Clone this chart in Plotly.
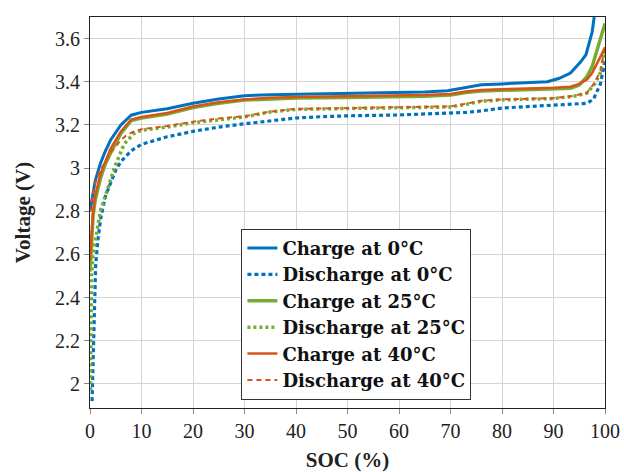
import plotly.graph_objects as go

# ---- data (SOC in %, voltage in V) ----
soc_charge_0 = [0, 0.5, 1, 2, 3, 4, 6, 8, 10, 15, 20, 25, 30, 35, 40, 50, 60, 65, 69.4, 73, 76, 80, 85, 88.8, 91, 93.3, 95.2, 96.3, 97.5, 97.9]
v_charge_0 = [2.80, 2.88, 2.94, 3.02, 3.08, 3.13, 3.20, 3.245, 3.258, 3.275, 3.30, 3.32, 3.335, 3.34, 3.342, 3.345, 3.348, 3.352, 3.358, 3.375, 3.386, 3.39, 3.395, 3.40, 3.415, 3.44, 3.49, 3.525, 3.63, 3.70]

soc_discharge_0 = [0.4, 0.6, 0.8, 1.1, 1.5, 2.1, 3, 4, 5, 6, 8, 10, 15, 20, 25, 30, 35, 40, 45, 50, 60, 65, 70, 73, 76, 80, 85, 90, 94, 96.5, 97.8, 99.1, 99.7, 100]
v_discharge_0 = [1.92, 2.15, 2.38, 2.55, 2.66, 2.77, 2.87, 2.93, 2.99, 3.03, 3.08, 3.11, 3.145, 3.17, 3.19, 3.205, 3.22, 3.232, 3.238, 3.242, 3.246, 3.25, 3.255, 3.258, 3.265, 3.278, 3.285, 3.29, 3.295, 3.30, 3.32, 3.39, 3.46, 3.50]

soc_charge_25 = [0, 0.3, 0.6, 1, 2, 3, 4, 6, 8, 10, 15, 20, 25, 30, 35, 40, 50, 60, 65, 70, 73, 76, 80, 85, 90, 93.3, 95, 96.5, 97.5, 98.4, 99.2, 100]
v_charge_25 = [2.52, 2.70, 2.78, 2.85, 2.95, 3.02, 3.07, 3.16, 3.22, 3.232, 3.25, 3.28, 3.30, 3.315, 3.322, 3.325, 3.327, 3.33, 3.333, 3.338, 3.35, 3.357, 3.36, 3.362, 3.367, 3.37, 3.385, 3.424, 3.47, 3.54, 3.60, 3.67]

soc_discharge_25 = [0.1, 0.2, 0.3, 0.6, 1.2, 2, 3.4, 4.7, 6.6, 8.5, 10, 15, 20, 25, 30, 35, 40, 50, 60, 70, 73, 76, 80, 85, 90, 94, 96.5, 98, 99.1, 100]
v_discharge_25 = [1.97, 2.30, 2.50, 2.60, 2.69, 2.80, 2.90, 3.00, 3.11, 3.16, 3.175, 3.19, 3.21, 3.225, 3.237, 3.26, 3.272, 3.276, 3.279, 3.283, 3.295, 3.31, 3.316, 3.318, 3.322, 3.333, 3.347, 3.39, 3.44, 3.55]

soc_charge_40 = [0, 0.3, 0.6, 1, 2, 3, 4, 6, 8, 10, 15, 20, 25, 30, 35, 40, 50, 60, 65, 70, 73, 76, 80, 85, 90, 93.3, 95, 96.5, 97.5, 98.4, 99.2, 100]
v_charge_40 = [2.57, 2.72, 2.80, 2.87, 2.97, 3.03, 3.09, 3.17, 3.225, 3.237, 3.255, 3.285, 3.305, 3.318, 3.326, 3.329, 3.332, 3.335, 3.338, 3.343, 3.355, 3.362, 3.366, 3.369, 3.372, 3.377, 3.39, 3.41, 3.44, 3.48, 3.52, 3.56]

soc_discharge_40 = [0, 0.5, 1, 2, 3, 4, 5, 6, 7, 8.5, 10, 15, 20, 25, 30, 35, 40, 50, 60, 70, 73, 76, 80, 85, 90, 94, 96.5, 98, 99.1, 100]
v_discharge_40 = [2.80, 2.88, 2.93, 2.99, 3.03, 3.07, 3.10, 3.13, 3.15, 3.17, 3.18, 3.195, 3.215, 3.23, 3.24, 3.262, 3.274, 3.278, 3.281, 3.286, 3.298, 3.312, 3.318, 3.32, 3.324, 3.335, 3.35, 3.395, 3.45, 3.56]

x_ticks = [0, 10, 20, 30, 40, 50, 60, 70, 80, 90, 100]
y_ticks = [2.0, 2.2, 2.4, 2.6, 2.8, 3.0, 3.2, 3.4, 3.6]
y_tick_labels = ["2", "2.2", "2.4", "2.6", "2.8", "3", "3.2", "3.4", "3.6"]

BLUE = "#0072BD"
GREEN = "#77AC30"
ORANGE = "#D95319"
FONT = "Liberation Serif"
LEGEND_FONT = "DejaVu Serif"

series = [
    ("Charge at 0°C", soc_charge_0, v_charge_0, BLUE, 3, "solid"),
    ("Discharge at 0°C", soc_discharge_0, v_discharge_0, BLUE, 3.2, "4px,3px"),
    ("Charge at 25°C", soc_charge_25, v_charge_25, GREEN, 3.5, "solid"),
    ("Discharge at 25°C", soc_discharge_25, v_discharge_25, GREEN, 3.5, "3px,3px"),
    ("Charge at 40°C", soc_charge_40, v_charge_40, ORANGE, 2.5, "solid"),
    ("Discharge at 40°C", soc_discharge_40, v_discharge_40, ORANGE, 2, "5px,4px"),
]

fig = go.Figure()
for name, xs, ys, color, width, dash in series:
    fig.add_trace(go.Scatter(
        x=xs, y=ys, mode="lines", name="<b>" + name + "</b>",
        line=dict(color=color, width=width, dash=dash),
    ))

axis_common = dict(
    showgrid=True, gridcolor="#d4d4d4", gridwidth=1,
    showline=True, linecolor="#222222", linewidth=1, mirror=True,
    ticks="outside", ticklen=5, tickcolor="#888888",
    tickfont=dict(family=FONT, size=20, color="#222222"),
    zeroline=False,
)

fig.update_layout(
    width=624, height=472,
    margin=dict(l=89.5, r=19, t=17, b=63.5),
    paper_bgcolor="white", plot_bgcolor="white",
    xaxis=dict(
        range=[0, 100], tickvals=x_ticks,
        title=dict(text="<b>SOC (%)</b>", font=dict(family=FONT, size=21, color="#222222"), standoff=16),
        automargin=False,
        **axis_common,
    ),
    yaxis=dict(
        range=[1.888, 3.7], tickvals=y_ticks, ticktext=y_tick_labels,
        title=dict(text="<b>Voltage (V)</b>", font=dict(family=FONT, size=21, color="#222222"), standoff=18),
        automargin=False,
        **axis_common,
    ),
    legend=dict(
        x=0.294, y=0.4585, xanchor="left", yanchor="top",
        bgcolor="white", bordercolor="#333333", borderwidth=1,
        font=dict(family=LEGEND_FONT, size=18, color="#111111"),
        tracegroupgap=0,
    ),
    showlegend=True,
)

fig.write_html(
    "out.html",
    config={"displayModeBar": False},
    post_script="document.body.style.margin='0';document.body.style.overflow='hidden';",
)
